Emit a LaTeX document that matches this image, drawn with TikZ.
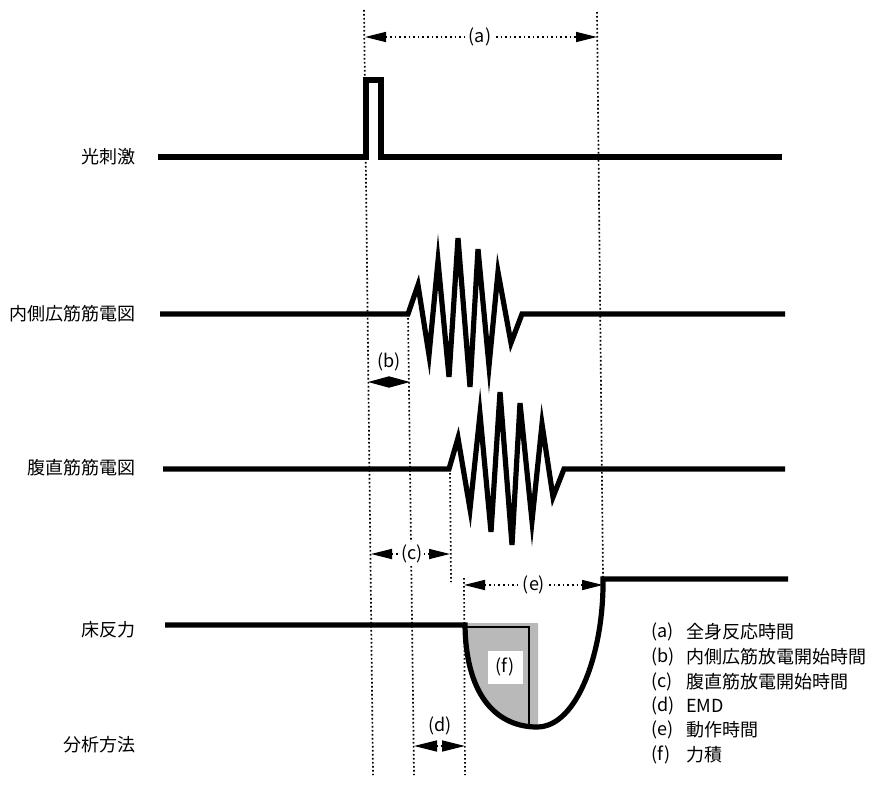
\documentclass[tikz,border=0pt]{standalone}
\usepackage{fontspec}
\setmainfont{Noto Sans CJK JP}
\usetikzlibrary{arrows.meta}
\begin{document}
\begin{tikzpicture}[x=1pt,y=-1pt,
  sig/.style={line width=5.2pt, line join=miter, miter limit=12},
  guide/.style={line width=1.7pt, dash pattern=on 1.6pt off 2.4pt},
  tip/.tip={Triangle[length=21pt,width=10pt]},
  dimline/.style={line width=1.7pt, dash pattern=on 1.6pt off 3pt, tip-tip},
  lbl/.style={font=\fontsize{18}{21}\selectfont, inner sep=1pt},
  rowlbl/.style={lbl, anchor=east},
  dimlbl/.style={lbl, fill=white, inner sep=2.5pt},
  leg/.style={lbl, anchor=west}]
\useasboundingbox[fill=white] (0,0) rectangle (875,787);

% guide lines
\coordinate (g1t) at (364,10);   \coordinate (g1b) at (373,775);
\coordinate (gat) at (597,12);   \coordinate (gab) at (603,578);
\coordinate (gbt) at (408,314);  \coordinate (gbb) at (414,775);
\coordinate (gct) at (450,469);  \coordinate (gcb) at (451,582);
\coordinate (get) at (464,578);  \coordinate (geb) at (465,775);
\draw[guide] (g1t) -- (g1b);
\draw[guide] (gat) -- (gab);
\draw[guide] (gbt) -- (gbb);
\draw[guide] (gct) -- (gcb);
\draw[guide] (get) -- (geb);

% row labels
\node[rowlbl] (r1) at (137,157) {光刺激};
\node[rowlbl] (r2) at (137,314) {内側広筋筋電図};
\node[rowlbl] (r3) at (137,468) {腹直筋筋電図};
\node[rowlbl] (r4) at (137,630) {床反力};
\node[rowlbl] (r5) at (137,745) {分析方法};

% light stimulus
\draw[sig] (158,157) -- (366,157) -- (366,80) -- (381,80) -- (381,157) -- (782,157);

% EMG vastus medialis
\draw[sig] (160,314) -- (408,314) -- (418,285) -- (429,355) -- (438,261) -- (449,377)
  -- (458,238) -- (470,387) -- (478,249) -- (489,366) -- (498,272) -- (511,343)
  -- (522,314) -- (785,314);

% EMG rectus abdominis
\draw[sig] (163,469) -- (449,469) -- (458,438) -- (470,509) -- (480,414) -- (491,532)
  -- (500,392) -- (512,545) -- (520,403) -- (532,521) -- (542,424) -- (553,497)
  -- (564,469) -- (785,469);

% impulse area
\fill[gray!55] (465,623) -- (538,623) -- (538,727) -- (537,727)
  .. controls (500,727) and (466,700) .. (465,626) -- cycle;
\draw[line width=1.2pt] (466,627) -- (529,627) -- (529,725);
\node[lbl, fill=white, minimum width=35pt, minimum height=33pt] (fbox) at (505,667) {(f)};

% floor reaction force
\draw[sig] (165,625) -- (465,625) .. controls (466,700) and (500,727) .. (537,727)
  .. controls (578,727) and (604,650) .. (603,579) -- (788,579);

% dimension (a)
\coordinate (a1) at (365,37); \coordinate (a2) at (597,37);
\draw[dimline] (a1) -- (a2);
\node[dimlbl] (la) at (480,37) {(a)};

% dimension (b)
\coordinate (b1) at (368,382); \coordinate (b2) at (410,382);
\draw[line width=1.5pt, {Triangle[length=21pt,width=11pt]}-{Triangle[length=21pt,width=11pt]}] (b1) -- (b2);
\node[lbl] (lb) at (389,362) {(b)};

% dimension (c)
\coordinate (c1) at (371,554); \coordinate (c2) at (450,554);
\draw[dimline] (c1) -- (c2);
\node[dimlbl, inner xsep=1pt] (lc) at (412,554) {(c)};

% dimension (d)
\coordinate (d1) at (414,746); \coordinate (d2) at (465,746);
\draw[line width=1.5pt, dash pattern=on 1.5pt off 2.5pt, {Triangle[length=23pt,width=11pt]}-{Triangle[length=23pt,width=11pt]}] (d1) -- (d2);
\node[lbl] (ld) at (440,726) {(d)};

% dimension (e)
\coordinate (e1) at (464,585); \coordinate (e2) at (603,585);
\draw[dimline] (e1) -- (e2);
\node[dimlbl] (le) at (534,585) {(e)};

% legend
\node[leg] (ka) at (650,632) {(a)}; \node[leg] (ta) at (685,632) {全身反応時間};
\node[leg] (kb) at (650,657) {(b)}; \node[leg] (tb) at (685,657) {内側広筋放電開始時間};
\node[leg] (kc) at (650,682) {(c)}; \node[leg] (tc) at (685,682) {腹直筋放電開始時間};
\node[leg] (kd) at (650,706) {(d)}; \node[leg] (td) at (685,706) {EMD};
\node[leg] (ke) at (650,730) {(e)}; \node[leg] (te) at (685,730) {動作時間};
\node[leg] (kf) at (650,755) {(f)}; \node[leg] (tf) at (685,755) {力積};
\end{tikzpicture}
\end{document}
